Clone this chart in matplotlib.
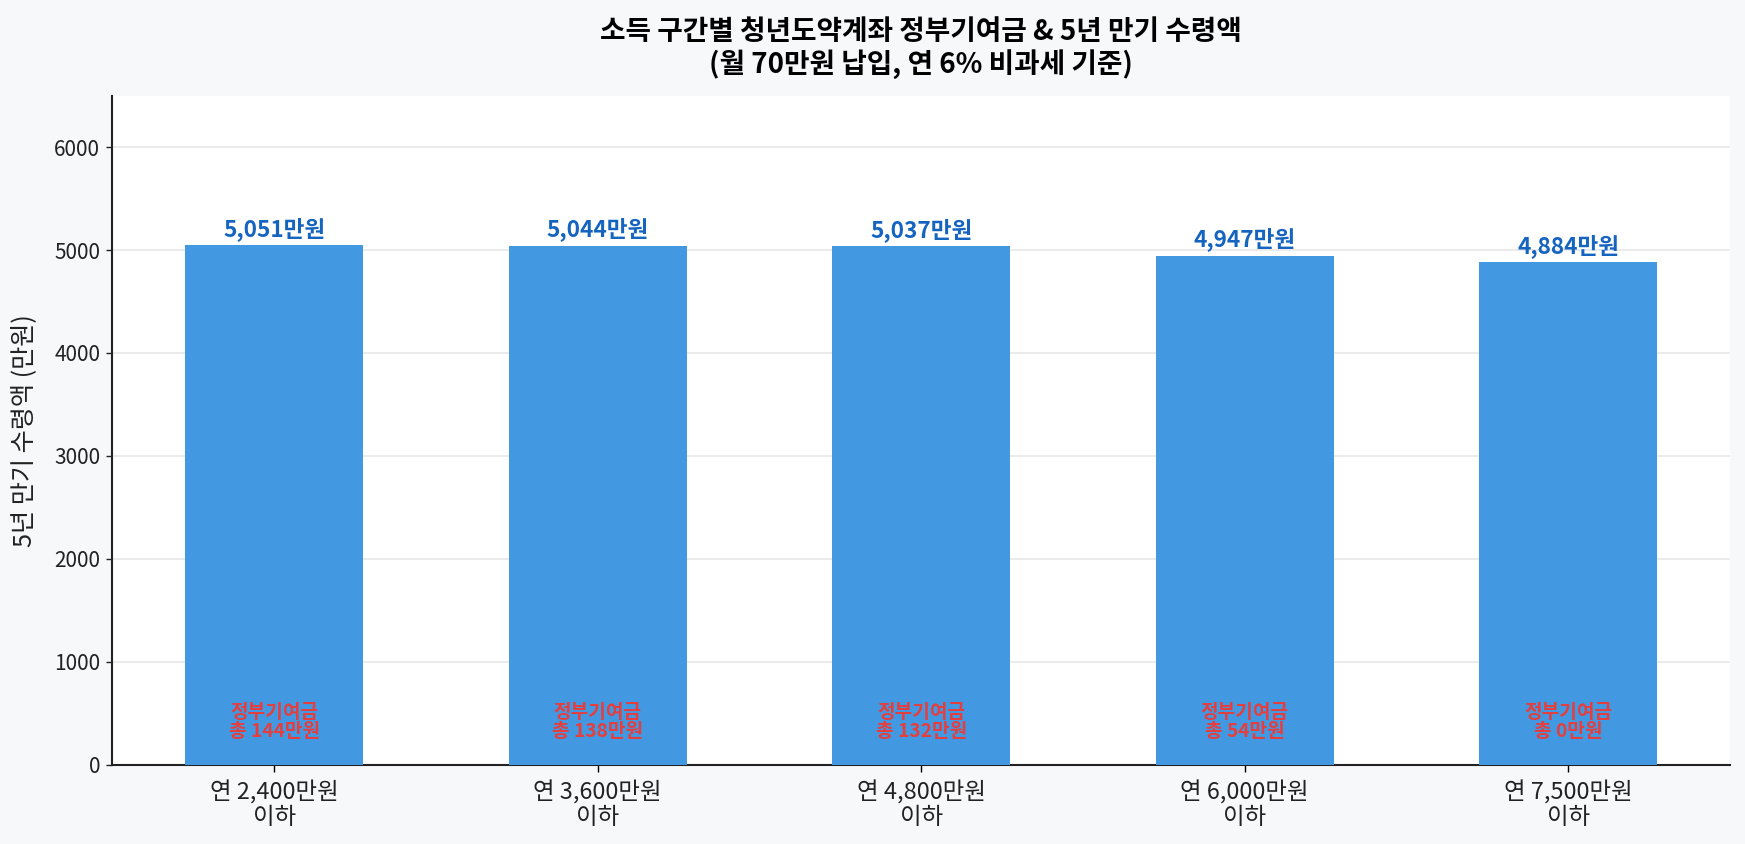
import matplotlib
matplotlib.use("Agg")
import matplotlib.pyplot as plt
import numpy as np

plt.rcParams['font.family'] = ['Noto Sans CJK KR', 'DejaVu Sans']

categories = ["연 2,400만원\n이하", "연 3,600만원\n이하", "연 4,800만원\n이하", "연 6,000만원\n이하", "연 7,500만원\n이하"]
totals = [5051, 5044, 5037, 4947, 4884]
contributions = [144, 138, 132, 54, 0]

DPI = 125
fig = plt.figure(figsize=(1745 / DPI, 844 / DPI), dpi=DPI, facecolor="#F7F8FA")
ax = fig.add_axes([0.0644, 0.0941, 0.9270, 0.7925])
ax.set_facecolor("white")

x = np.arange(len(categories))
bars = ax.bar(x, totals, width=0.55, color="#4299E1", zorder=3)

for xi, t in zip(x, totals):
    ax.text(xi, t + 40, f"{t:,}만원", ha="center", va="bottom",
            fontsize=13, fontweight="bold", color="#1565C0", zorder=4)
for xi, c in zip(x, contributions):
    ax.text(xi, 410, f"정부기여금\n총 {c}만원", ha="center", va="center",
            fontsize=11, fontweight="bold", color="#E53E3E", linespacing=1.0, zorder=4)

ax.set_xlim(-0.5, 4.5)
ax.set_ylim(0, 6500)
ax.set_xticks(x)
ax.set_xticklabels(categories, fontsize=13.5, color="#222222", linespacing=1.1)
ax.tick_params(axis="x", pad=5, length=4)
ax.set_yticks([0, 1000, 2000, 3000, 4000, 5000, 6000])
ax.tick_params(axis="y", labelsize=12, colors="#222222")
ax.set_ylabel("5년 만기 수령액 (만원)", fontsize=14.5, color="#222222", labelpad=10)
ax.set_title("소득 구간별 청년도약계좌 정부기여금 & 5년 만기 수령액\n(월 70만원 납입, 연 6% 비과세 기준)",
             fontsize=16, fontweight="bold", pad=13, linespacing=1.15)

ax.grid(axis="y", color="#E8E8E8", linewidth=1.0, zorder=0)
ax.set_axisbelow(True)
for s in ["top", "right"]:
    ax.spines[s].set_visible(False)
for s in ["left", "bottom"]:
    ax.spines[s].set_color("#222222")
    ax.spines[s].set_linewidth(1.2)

fig.savefig("out.png", dpi=DPI, facecolor=fig.get_facecolor())
